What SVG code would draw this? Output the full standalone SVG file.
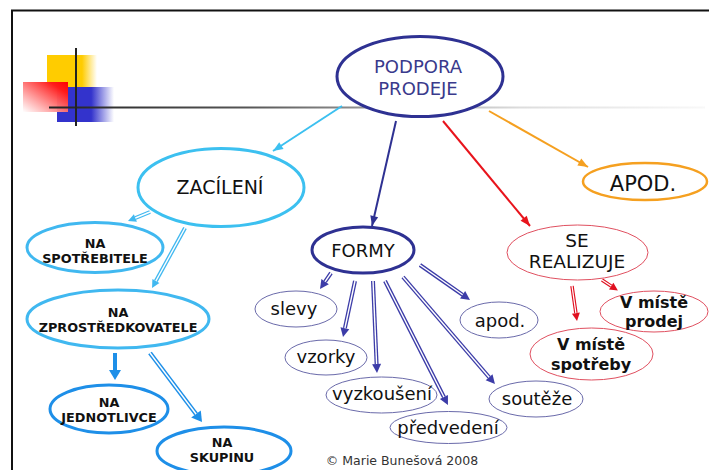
<svg xmlns="http://www.w3.org/2000/svg" width="709" height="470" viewBox="0 0 709 470">
<style>
text{font-family:"DejaVu Sans","Verdana",sans-serif;text-anchor:middle;fill:#111}
.b{font-weight:bold;font-size:12.8px}
.bm{font-weight:bold;font-size:16px}
.f{font-size:18px}
ellipse{fill:#fff}
.dbl-in{stroke:#fff;stroke-width:1.4;fill:none}
</style>
<defs>
<linearGradient id="hl" gradientUnits="userSpaceOnUse" x1="49" y1="0" x2="705" y2="0">
<stop offset="0" stop-color="#222"/><stop offset="0.3" stop-color="#555"/><stop offset="0.5" stop-color="#999"/><stop offset="0.72" stop-color="#ddd"/><stop offset="1" stop-color="#f8f8f8"/>
</linearGradient>
<linearGradient id="gy" x1="0" y1="0" x2="1" y2="0"><stop offset="0" stop-color="#ffcc00"/><stop offset="0.7" stop-color="#ffcc00"/><stop offset="1" stop-color="#ffcc00" stop-opacity="0"/></linearGradient>
<linearGradient id="gb" x1="0" y1="0" x2="1" y2="0"><stop offset="0" stop-color="#3333cc"/><stop offset="0.6" stop-color="#3333cc"/><stop offset="1" stop-color="#3333cc" stop-opacity="0"/></linearGradient>
<linearGradient id="gr" x1="1" y1="0" x2="0" y2="1"><stop offset="0" stop-color="#ff0000"/><stop offset="0.2" stop-color="#ff1a1a"/><stop offset="1" stop-color="#ffffff" stop-opacity="0.9"/></linearGradient>
<marker id="hLB" markerUnits="userSpaceOnUse" markerWidth="10" markerHeight="8" refX="10" refY="4" orient="auto" overflow="visible"><path d="M0,0 L10,4 L0,8 z" fill="#3cc0f0"/></marker>
<marker id="hDB" markerUnits="userSpaceOnUse" markerWidth="10" markerHeight="8" refX="10" refY="4" orient="auto" overflow="visible"><path d="M0,0 L10,4 L0,8 z" fill="#2e3192"/></marker>
<marker id="hR" markerUnits="userSpaceOnUse" markerWidth="10" markerHeight="8" refX="10" refY="4" orient="auto" overflow="visible"><path d="M0,0 L10,4 L0,8 z" fill="#e8141c"/></marker>
<marker id="hO" markerUnits="userSpaceOnUse" markerWidth="10" markerHeight="8" refX="10" refY="4" orient="auto" overflow="visible"><path d="M0,0 L10,4 L0,8 z" fill="#f5a020"/></marker>
<marker id="dDB" markerUnits="userSpaceOnUse" markerWidth="9" markerHeight="9" refX="0" refY="4.5" orient="auto" overflow="visible"><path d="M0,0 L9,4.5 L0,9 z" fill="#3c3ca8"/></marker>
<marker id="dLB" markerUnits="userSpaceOnUse" markerWidth="8" markerHeight="8" refX="0" refY="4" orient="auto" overflow="visible"><path d="M0,0 L8,4 L0,8 z" fill="#40b8f0"/></marker>
<marker id="dR" markerUnits="userSpaceOnUse" markerWidth="8" markerHeight="8" refX="0" refY="4" orient="auto" overflow="visible"><path d="M0,0 L8,4 L0,8 z" fill="#e01020"/></marker>
<marker id="dB" markerUnits="userSpaceOnUse" markerWidth="10" markerHeight="12" refX="0" refY="6" orient="auto" overflow="visible"><path d="M0,0 L10,6 L0,12 z" fill="#1e8fe8"/></marker>
</defs>
<rect width="709" height="470" fill="#fff"/>
<!-- frame -->
<path d="M12,470 L12,10.5 L709,10.5" fill="none" stroke="#111" stroke-width="2"/>
<!-- logo -->
<g id="logo">
<rect x="47" y="55" width="50" height="33" fill="url(#gy)"/>
<rect x="57" y="87" width="57" height="35" fill="url(#gb)"/>
<rect x="23" y="82" width="45" height="30" fill="url(#gr)"/>
<line x1="49" y1="107.5" x2="705" y2="107.5" stroke="url(#hl)" stroke-width="2"/>
<line x1="76" y1="48" x2="76" y2="126" stroke="#222" stroke-width="2"/>
</g>
<g id="connectors" fill="none">
<line x1="342" y1="106" x2="273" y2="151" stroke="#3cc0f0" stroke-width="2" marker-end="url(#hLB)"/>
<line x1="396" y1="121" x2="372" y2="226" stroke="#2e3192" stroke-width="2" marker-end="url(#hDB)"/>
<line x1="443" y1="121" x2="530" y2="226" stroke="#e8141c" stroke-width="2" marker-end="url(#hR)"/>
<line x1="489" y1="111" x2="588" y2="167" stroke="#f5a020" stroke-width="2" marker-end="url(#hO)"/>
<!-- FORMY doubles -->
<g stroke="#3c3ca8" stroke-width="4">
<line x1="331" y1="273" x2="325.1" y2="281.6" marker-end="url(#dDB)"/>
<line x1="355" y1="281" x2="344.9" y2="328.2" marker-end="url(#dDB)"/>
<line x1="373" y1="281" x2="376.6" y2="364" marker-end="url(#dDB)"/>
<line x1="385" y1="281" x2="443.9" y2="397" marker-end="url(#dDB)"/>
<line x1="403" y1="277" x2="489.1" y2="377.2" marker-end="url(#dDB)"/>
<line x1="420" y1="265" x2="462.6" y2="294.8" marker-end="url(#dDB)"/>
</g>
<g class="dbl-in">
<line x1="331" y1="273" x2="325.1" y2="281.6"/>
<line x1="355" y1="281" x2="344.9" y2="328.2"/>
<line x1="373" y1="281" x2="376.6" y2="364"/>
<line x1="385" y1="281" x2="443.9" y2="397"/>
<line x1="403" y1="277" x2="489.1" y2="377.2"/>
<line x1="420" y1="265" x2="462.6" y2="294.8"/>
</g>
<!-- ZACILENI doubles -->
<g stroke="#40b8f0" stroke-width="4">
<line x1="150" y1="212" x2="135.4" y2="218" marker-end="url(#dLB)"/>
<line x1="185" y1="228" x2="155.9" y2="281" marker-end="url(#dLB)"/>
</g>
<g class="dbl-in">
<line x1="150" y1="212" x2="135.4" y2="218"/>
<line x1="185" y1="228" x2="155.9" y2="281"/>
</g>
<!-- ZPROSTREDKOVATELE arrows -->
<line x1="115" y1="353" x2="115" y2="370" stroke="#1e8fe8" stroke-width="4" marker-end="url(#dB)"/>
<line x1="150" y1="353" x2="196" y2="414" stroke="#1e8fe8" stroke-width="4.5" marker-end="url(#dB)"/>
<line x1="150" y1="353" x2="196" y2="414" class="dbl-in"/>
<!-- red doubles -->
<g stroke="#e01020" stroke-width="3.5">
<line x1="602" y1="280" x2="611.2" y2="286.1" marker-end="url(#dR)"/>
<line x1="572" y1="286" x2="575.9" y2="313.1" marker-end="url(#dR)"/>
</g>
<g class="dbl-in" style="stroke-width:1.2">
<line x1="602" y1="280" x2="611.2" y2="286.1"/>
<line x1="572" y1="286" x2="575.9" y2="313.1"/>
</g>
</g>
<g id="podpora">
<ellipse cx="420" cy="76.5" rx="83" ry="40" stroke="#2e3192" stroke-width="3"/>
<text x="418" y="73" font-size="18" style="fill:#3a3a8c">PODPORA</text>
<text x="418" y="95" font-size="18" style="fill:#3a3a8c">PRODEJE</text>
</g>
<g id="zacileni">
<ellipse cx="221" cy="187.5" rx="83" ry="39" stroke="#3cc0f0" stroke-width="3"/>
<text x="220" y="194" font-size="19">ZACÍLENÍ</text>
</g>
<g id="spotrebitele">
<ellipse cx="95" cy="247.5" rx="68" ry="25" stroke="#40b8f0" stroke-width="3"/>
<text class="b" x="95" y="248">NA</text>
<text class="b" x="95" y="263">SPOTŘEBITELE</text>
</g>
<g id="zprostredkovatele">
<ellipse cx="118" cy="319" rx="91" ry="29" stroke="#40b8f0" stroke-width="3"/>
<text class="b" x="118" y="317">NA</text>
<text class="b" x="118" y="332">ZPROSTŘEDKOVATELE</text>
</g>
<g id="jednotlivce">
<ellipse cx="109" cy="409" rx="59" ry="24" stroke="#1e8fe8" stroke-width="3"/>
<text class="b" x="109" y="407">NA</text>
<text class="b" x="109" y="422">JEDNOTLIVCE</text>
</g>
<g id="skupinu">
<ellipse cx="224" cy="451" rx="67" ry="24" stroke="#1e8fe8" stroke-width="3"/>
<text class="b" x="222" y="447">NA</text>
<text class="b" x="222" y="462">SKUPINU</text>
</g>
<g id="formy">
<ellipse cx="363" cy="250" rx="51" ry="23" stroke="#2e3192" stroke-width="3"/>
<text class="f" x="363" y="257">FORMY</text>
</g>
<g id="slevy">
<ellipse cx="296" cy="309" rx="41" ry="18" stroke="#6a6aaa" stroke-width="1"/>
<text class="f" x="294" y="315">slevy</text>
</g>
<g id="vzorky">
<ellipse cx="326" cy="357.5" rx="41" ry="17.5" stroke="#6a6aaa" stroke-width="1"/>
<text class="f" x="326" y="363">vzorky</text>
</g>
<g id="vyzkouseni">
<ellipse cx="381.5" cy="395" rx="55.5" ry="18" stroke="#6a6aaa" stroke-width="1"/>
<text class="f" x="382" y="400">vyzkoušení</text>
</g>
<g id="predvedeni">
<ellipse cx="448.5" cy="427.5" rx="58.5" ry="16" stroke="#6a6aaa" stroke-width="1"/>
<text class="f" x="448" y="434">předvedení</text>
</g>
<g id="apod-small">
<ellipse cx="499" cy="320" rx="39" ry="18" stroke="#6a6aaa" stroke-width="1"/>
<text class="f" x="500" y="327">apod.</text>
</g>
<g id="souteze">
<ellipse cx="536" cy="399" rx="47" ry="18" stroke="#6a6aaa" stroke-width="1"/>
<text class="f" x="537" y="405">soutěže</text>
</g>
<g id="se-realizuje">
<ellipse cx="577.5" cy="252.5" rx="70.5" ry="27.5" stroke="#e05060" stroke-width="1"/>
<text x="577" y="247" font-size="18.5">SE</text>
<text x="577" y="268" font-size="18.5">REALIZUJE</text>
</g>
<g id="v-miste-prodej">
<ellipse cx="654" cy="311.5" rx="54" ry="20.5" stroke="#e05060" stroke-width="1"/>
<text class="bm" x="654" y="308">V místě</text>
<text class="bm" x="654" y="327">prodej</text>
</g>
<g id="v-miste-spotreby">
<ellipse cx="591.5" cy="354" rx="61.5" ry="26" stroke="#e05060" stroke-width="1"/>
<text class="bm" x="591" y="350">V místě</text>
<text class="bm" x="591" y="370">spotřeby</text>
</g>
<g id="apod">
<ellipse cx="645" cy="181.5" rx="62" ry="18.5" stroke="#f5a020" stroke-width="2.5"/>
<text x="643" y="191" font-size="21">APOD.</text>
</g>
<text x="402" y="465" font-size="12.5" style="fill:#333">© Marie Bunešová 2008</text>
</svg>
